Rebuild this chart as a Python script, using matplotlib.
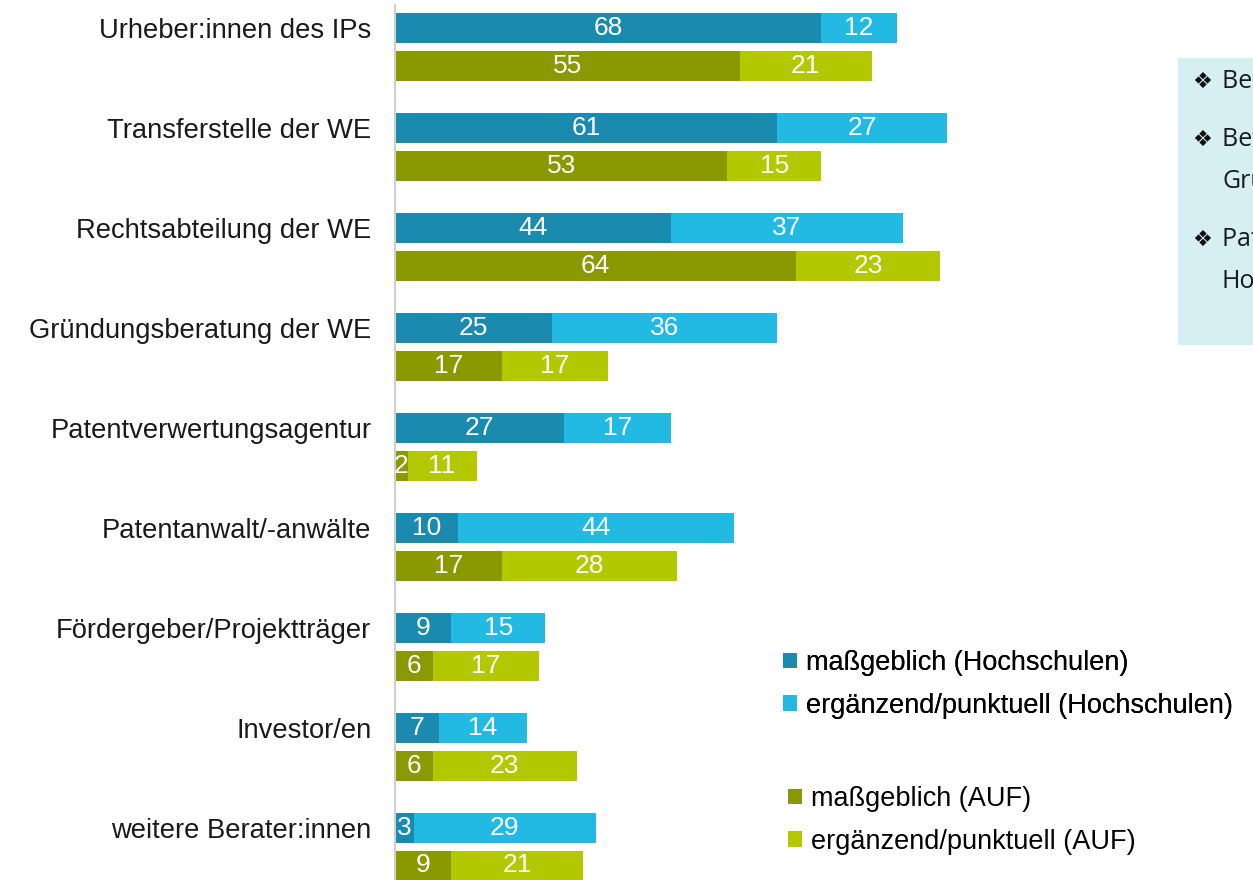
import matplotlib.pyplot as plt
import numpy as np

plt.rcParams['font.family'] = ['Liberation Sans', 'DejaVu Sans']

categories = [
    "Urheber:innen des IPs",
    "Transferstelle der WE",
    "Rechtsabteilung der WE",
    "Gründungsberatung der WE",
    "Patentverwertungsagentur",
    "Patentanwalt/-anwälte",
    "Fördergeber/Projektträger",
    "Investor/en",
    "weitere Berater:innen",
]
hs_main = [68, 61, 44, 25, 27, 10, 9, 7, 3]
hs_extra = [12, 27, 37, 36, 17, 44, 15, 14, 29]
auf_main = [55, 53, 64, 17, 2, 17, 6, 6, 9]
auf_extra = [21, 15, 23, 17, 11, 28, 17, 23, 21]

labels = [
    "maßgeblich (Hochschulen)",
    "ergänzend/punktuell (Hochschulen)",
    "maßgeblich (AUF)",
    "ergänzend/punktuell (AUF)",
]
colors = ["#1a8bae", "#22b9e2", "#8a9900", "#b4c800"]

# note box on the right, cut off by the picture edge
notes = [
    ["Beratung zu Schutzrechten"],
    ["Beteiligung an Ausgründungen", "Gründungsvorhaben"],
    ["Patentverwertung durch die", "Hochschule"],
]

W, H = 1253, 880
fig = plt.figure(figsize=(W / 100, H / 100), dpi=100)
ax = fig.add_axes([395 / W, 0, 1 - 395 / W, 875 / H])

y = np.arange(len(categories))
h = 0.30
y_top = y - 0.19
y_bot = y + 0.19

bars = []
bars.append(ax.barh(y_top, hs_main, height=h, color=colors[0]))
bars.append(ax.barh(y_top, hs_extra, left=hs_main, height=h, color=colors[1]))
bars.append(ax.barh(y_bot, auf_main, height=h, color=colors[2]))
bars.append(ax.barh(y_bot, auf_extra, left=auf_main, height=h, color=colors[3]))

for b in bars:
    ax.bar_label(b, label_type='center', color='white', fontsize=19)

ax.set_xlim(0, (W - 395) / 6.27)
ax.set_ylim(8.33, -0.42)
ax.set_yticks(y_top)
ax.set_yticklabels(categories, fontsize=19.7, color='#1a1a1a')
ax.tick_params(axis='y', length=0, pad=17)
ax.set_xticks([])
for s in ['top', 'right', 'bottom']:
    ax.spines[s].set_visible(False)
ax.spines['left'].set_color('#d0d0d0')
ax.spines['left'].set_linewidth(1.5)

leg_kw = dict(loc='upper left', frameon=False, fontsize=19.5,
              handlelength=0.5, handleheight=0.5, handletextpad=0.35,
              labelspacing=0.62, borderpad=0, borderaxespad=0)
leg1 = fig.legend(bars[:2], labels[:2],
                  bbox_to_anchor=(783 / W, 1 - 650 / H), **leg_kw)
leg2 = fig.legend(bars[2:], labels[2:],
                  bbox_to_anchor=(788 / W, 1 - 786 / H), **leg_kw)
fig.add_artist(leg1)

box = plt.Rectangle((1178 / W, 1 - 345 / H), 1 - 1178 / W, 287 / H,
                    transform=fig.transFigure, facecolor='#d6eff3',
                    edgecolor='none', clip_on=False, zorder=-5)
ax.add_patch(box)

bullet_y = [82, 140, 240]
for by, lines in zip(bullet_y, notes):
    fig.text(1192 / W, 1 - by / H, "❖", fontsize=16, va='center',
             family=['DejaVu Sans'], color='#111111')
    for k, line in enumerate(lines):
        fig.text(1222 / W, 1 - (by + 41 * k) / H, line, fontsize=18,
                 va='center', family=['Open Sans', 'DejaVu Sans'],
                 color='#1a1a1a')

fig.savefig("out.png", dpi=100)
